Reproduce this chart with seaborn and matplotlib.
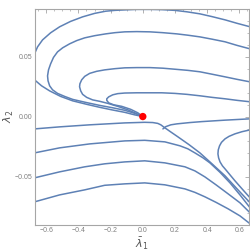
import matplotlib
matplotlib.use("Agg")
import matplotlib.pyplot as plt
import pandas as pd
import seaborn as sns
from matplotlib.ticker import MultipleLocator

# streamlines, (lambda1, lambda2)
# upper family: C-shaped flows that end in the fixed point
a_l1 = [0.667, 0.586, 0.511, 0.430, 0.355, 0.274, 0.199, 0.118, 0.044, -0.037, -0.112, -0.174,
        -0.231, -0.299, -0.374, -0.449, -0.517, -0.573, -0.623, -0.654, -0.673, -0.692, -0.704,
        -0.707, -0.698, -0.673, -0.629, -0.579, -0.511, -0.436, -0.349, -0.268, -0.193, -0.112,
        -0.050, 0.0]
a_l2 = [0.0748, 0.0777, 0.0806, 0.0833, 0.0856, 0.0873, 0.0885, 0.0891, 0.0893, 0.0893, 0.0889,
        0.0885, 0.0878, 0.0860, 0.0831, 0.0793, 0.0748, 0.0698, 0.0639, 0.0581, 0.0523, 0.0473,
        0.0431, 0.0389, 0.0348, 0.0306, 0.0256, 0.0214, 0.0168, 0.0131, 0.0102, 0.0077, 0.0056,
        0.0035, 0.0014, 0.0]

b_l1 = [0.667, 0.586, 0.511, 0.430, 0.355, 0.280, 0.212, 0.125, 0.044, -0.037, -0.112, -0.174,
        -0.231, -0.299, -0.361, -0.411, -0.455, -0.498, -0.530, -0.555, -0.573, -0.586, -0.592,
        -0.589, -0.579, -0.561, -0.530, -0.486, -0.436, -0.355, -0.268, -0.187, -0.112, -0.050, 0.0]
b_l2 = [0.0564, 0.0593, 0.0623, 0.0645, 0.0664, 0.0678, 0.0689, 0.0699, 0.0706, 0.0708, 0.0706,
        0.0699, 0.0689, 0.0674, 0.0656, 0.0633, 0.0606, 0.0573, 0.0539, 0.0493, 0.0439, 0.0389,
        0.0339, 0.0298, 0.0256, 0.0223, 0.0193, 0.0168, 0.0143, 0.0118, 0.0093, 0.0073, 0.0052,
        0.0027, 0.0]

c_l1 = [0.667, 0.586, 0.511, 0.430, 0.355, 0.280, 0.212, 0.125, 0.044, -0.037, -0.112, -0.174,
        -0.237, -0.287, -0.330, -0.361, -0.380, -0.391, -0.393, -0.386, -0.374, -0.349, -0.312,
        -0.268, -0.218, -0.156, -0.093, -0.044, 0.0]
c_l2 = [0.0289, 0.0310, 0.0331, 0.0353, 0.0373, 0.0385, 0.0393, 0.0403, 0.0408, 0.0408, 0.0406,
        0.0399, 0.0389, 0.0377, 0.0360, 0.0335, 0.0306, 0.0273, 0.0248, 0.0214, 0.0185, 0.0160,
        0.0139, 0.0127, 0.0110, 0.0085, 0.0056, 0.0027, 0.0]

d_l1 = [0.667, 0.586, 0.511, 0.430, 0.355, 0.274, 0.199, 0.118, 0.044, -0.037, -0.112, -0.156,
        -0.187, -0.212, -0.224, -0.224, -0.212, -0.181, -0.131, -0.075, -0.031, 0.0]
d_l2 = [0.0123, 0.0135, 0.0148, 0.0160, 0.0173, 0.0185, 0.0193, 0.0198, 0.0198, 0.0198, 0.0196,
        0.0191, 0.0181, 0.0164, 0.0148, 0.0135, 0.0114, 0.0098, 0.0085, 0.0060, 0.0031, 0.0]

# lower family
l1_l1 = [-0.704, -0.673, -0.517, -0.330, -0.112, 0.012, 0.062, 0.093, 0.112, 0.131, 0.168, 0.218,
         0.287, 0.355, 0.430, 0.511, 0.586, 0.667]
l1_l2 = [-0.0107, -0.0103, -0.0086, -0.0069, -0.0053, -0.0048, -0.0050, -0.0057, -0.0069, -0.0088,
         -0.0123, -0.0169, -0.0234, -0.0303, -0.0394, -0.0494, -0.0603, -0.0719]

s_l1 = [0.125, 0.143, 0.174, 0.212, 0.293, 0.368, 0.511, 0.667]
s_l2 = [-0.0103, -0.0084, -0.0069, -0.0061, -0.0050, -0.0042, -0.0030, -0.0019]

l2_l1 = [-0.704, -0.673, -0.517, -0.330, -0.112, 0.012, 0.137, 0.231, 0.280, 0.324, 0.374, 0.417,
         0.480, 0.542, 0.604, 0.667]
l2_l2 = [-0.0311, -0.0303, -0.0261, -0.0228, -0.0203, -0.0198, -0.0211, -0.0244, -0.0269, -0.0303,
         -0.0344, -0.0386, -0.0465, -0.0553, -0.0653, -0.0761]

l3_l1 = [-0.704, -0.673, -0.517, -0.361, -0.237, -0.112, 0.012, 0.137, 0.262, 0.324, 0.386, 0.455,
         0.530, 0.604, 0.667]
l3_l2 = [-0.0519, -0.0511, -0.0461, -0.0419, -0.0394, -0.0378, -0.0369, -0.0386, -0.0419, -0.0453,
         -0.0503, -0.0569, -0.0644, -0.0719, -0.0803]

l4_l1 = [-0.704, -0.673, -0.517, -0.361, -0.237, -0.112, 0.012, 0.137, 0.262, 0.324, 0.386, 0.455,
         0.530, 0.604, 0.667]
l4_l2 = [-0.0719, -0.0711, -0.0653, -0.0611, -0.0573, -0.0561, -0.0553, -0.0569, -0.0603, -0.0632,
         -0.0669, -0.0715, -0.0769, -0.0828, -0.0894]

e_l1 = [0.667, 0.617, 0.573, 0.536, 0.511, 0.489, 0.477, 0.469, 0.467, 0.471, 0.480, 0.495, 0.511,
        0.542, 0.573, 0.617, 0.667]
e_l2 = [-0.0111, -0.0126, -0.0144, -0.0165, -0.0186, -0.0215, -0.0244, -0.0278, -0.0311, -0.0344,
        -0.0378, -0.0411, -0.0436, -0.0486, -0.0536, -0.0603, -0.0678]

fixed_l1 = [0.0]
fixed_l2 = [0.0]

curves = {
    "a": (a_l1, a_l2), "b": (b_l1, b_l2), "c": (c_l1, c_l2), "d": (d_l1, d_l2),
    "l1": (l1_l1, l1_l2), "s": (s_l1, s_l2), "l2": (l2_l1, l2_l2),
    "l3": (l3_l1, l3_l2), "l4": (l4_l1, l4_l2), "e": (e_l1, e_l2),
}
rows = []
for name, (xs, ys) in curves.items():
    for x, y in zip(xs, ys):
        rows.append({"curve": name, "l1": x, "l2": y})
df = pd.DataFrame(rows)

sns.set_style("white")
plt.rcParams["font.family"] = ["Liberation Sans", "DejaVu Sans"]

fig = plt.figure(figsize=(2.5, 2.52), dpi=100)
ax = fig.add_axes([0.14, 0.109, 0.856, 0.857])

sns.lineplot(data=df, x="l1", y="l2", units="curve", estimator=None, sort=False,
             color="#5e81b5", linewidth=1.1, solid_joinstyle="round", ax=ax)
sns.scatterplot(x=fixed_l1, y=fixed_l2, color="#ff0000", s=28, edgecolor="none", zorder=5, ax=ax)

ax.set_xlim(-0.67, 0.66)
ax.set_ylim(-0.09, 0.09)
ax.xaxis.set_major_locator(MultipleLocator(0.2))
ax.xaxis.set_minor_locator(MultipleLocator(0.05))
ax.yaxis.set_major_locator(MultipleLocator(0.05))
ax.yaxis.set_minor_locator(MultipleLocator(0.01))
ax.xaxis.set_major_formatter(lambda v, p: f"{v:.1f}".replace("-", "\u2212"))
ax.yaxis.set_major_formatter(lambda v, p: f"{v:.2f}".replace("-", "\u2212"))

for sp in ax.spines.values():
    sp.set_color("#a6a6a6")
    sp.set_linewidth(0.8)
ax.tick_params(which="both", direction="in", top=True, right=True, color="#a6a6a6",
               labelcolor="#808080", labelsize=5, pad=2)
ax.tick_params(which="major", length=3, width=0.6)
ax.tick_params(which="minor", length=1.6, width=0.5)

ax.set_xlabel(r"$\bar{\lambda}_1$", fontsize=8, color="#555555")
ax.set_ylabel(r"$\bar{\lambda}_2$", fontsize=8, color="#555555")
ax.xaxis.set_label_coords(0.5, -0.055)
ax.yaxis.set_label_coords(-0.088, 0.5)

plt.savefig("out.png", dpi=100)
